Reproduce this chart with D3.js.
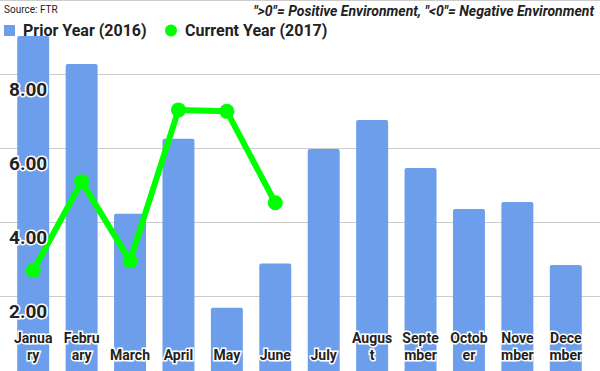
<!DOCTYPE html>
<html>
<head>
<meta charset="utf-8">
<script src="https://cdn.jsdelivr.net/npm/d3@7"></script>
<style>
  body { margin: 0; background: #fff; }
  svg { display: block; font-family: Roboto, sans-serif; }
</style>
</head>
<body>
<div id="chart"></div>
<script>
const months = ["January", "February", "March", "April", "May", "June",
  "July", "August", "September", "October", "November", "December"];
// how each month label wraps inside its bar
const monthLines = [["Janua", "ry"], ["Febru", "ary"], ["March"], ["April"], ["May"], ["June"],
  ["July"], ["Augus", "t"], ["Septe", "mber"], ["Octob", "er"], ["Nove", "mber"], ["Dece", "mber"]];
const priorYear = [9.03, 8.27, 4.22, 6.25, 1.68, 2.88, 5.97, 6.76, 5.46, 4.35, 4.54, 2.84];
const currentYear = [2.69, 5.09, 2.95, 7.03, 6.99, 4.52];
const yTicks = [2, 4, 6, 8, 10];

const width = 600, height = 371;

const svg = d3.select("#chart")
  .append("svg")
  .attr("width", width)
  .attr("height", height);

const x = d3.scaleBand()
  .domain(months)
  .range([9, 590])
  .paddingInner(0.34)
  .paddingOuter(0.17);

const y = d3.scaleLinear()
  .domain([0, 10])
  .range([370, 0]);

// gridlines
svg.append("g")
  .selectAll("line")
  .data(yTicks)
  .join("line")
  .attr("x1", 0)
  .attr("x2", width)
  .attr("y1", d => Math.round(y(d)) + 0.5)
  .attr("y2", d => Math.round(y(d)) + 0.5)
  .attr("stroke", "#cccccc")
  .attr("stroke-width", 1.2);

// bars
svg.append("g")
  .selectAll("rect")
  .data(priorYear)
  .join("rect")
  .attr("x", (d, i) => x(months[i]))
  .attr("y", d => y(d))
  .attr("width", x.bandwidth())
  .attr("height", d => y(0) - y(d) + 5)
  .attr("rx", 2)
  .attr("fill", "#6d9eeb");

// current year line
const line = d3.line()
  .x((d, i) => x(months[i]) + x.bandwidth() / 2)
  .y(d => y(d));

svg.append("path")
  .datum(currentYear)
  .attr("fill", "none")
  .attr("stroke", "#00ff00")
  .attr("stroke-width", 6)
  .attr("stroke-linejoin", "round")
  .attr("d", line);

svg.append("g")
  .selectAll("circle")
  .data(currentYear)
  .join("circle")
  .attr("cx", (d, i) => x(months[i]) + x.bandwidth() / 2)
  .attr("cy", d => y(d))
  .attr("r", 7.5)
  .attr("fill", "#00ff00");

// y tick labels (inside, below gridline)
svg.append("g")
  .selectAll("text")
  .data(yTicks.filter(d => d < 10))
  .join("text")
  .attr("x", 9)
  .attr("y", d => y(d) + 22)
  .attr("font-size", 19)
  .attr("font-weight", "bold")
  .attr("fill", "#222")
  .attr("stroke", "#fff")
  .attr("stroke-width", 3)
  .attr("paint-order", "stroke")
  .text(d => d3.format(".2f")(d));

// x labels
const xl = svg.append("g")
  .selectAll("text")
  .data(months)
  .join("text")
  .attr("text-anchor", "middle")
  .attr("font-size", 14)
  .attr("font-weight", "bold")
  .attr("fill", "#222")
  .attr("stroke", "#fff")
  .attr("stroke-width", 3)
  .attr("paint-order", "stroke");

xl.each(function(d, i) {
  const parts = monthLines[i];
  const cx = x(d) + x.bandwidth() / 2;
  parts.forEach((p, j) => {
    d3.select(this).append("tspan")
      .attr("x", cx)
      .attr("y", 360 - (parts.length - 1 - j) * 17)
      .text(p);
  });
});

// source + note
svg.append("text")
  .attr("x", 4)
  .attr("y", 13)
  .attr("font-size", 10)
  .attr("fill", "#222")
  .text("Source: FTR");

svg.append("text")
  .attr("x", 594)
  .attr("y", 16)
  .attr("text-anchor", "end")
  .attr("font-size", 14)
  .attr("font-weight", "bold")
  .attr("font-style", "italic")
  .attr("fill", "#222")
  .text("\">0\"= Positive Environment, \"<0\"= Negative Environment");

// legend
const legend = svg.append("g");
legend.append("rect")
  .attr("x", 4).attr("y", 25)
  .attr("width", 11).attr("height", 11)
  .attr("fill", "#6d9eeb");
legend.append("text")
  .attr("x", 23).attr("y", 36)
  .attr("font-size", 16)
  .attr("font-weight", "bold")
  .attr("fill", "#222")
  .text("Prior Year (2016)");
legend.append("circle")
  .attr("cx", 171).attr("cy", 30.5)
  .attr("r", 6)
  .attr("fill", "#00ff00");
legend.append("text")
  .attr("x", 185).attr("y", 36)
  .attr("font-size", 16)
  .attr("font-weight", "bold")
  .attr("fill", "#222")
  .text("Current Year (2017)");
</script>
</body>
</html>
